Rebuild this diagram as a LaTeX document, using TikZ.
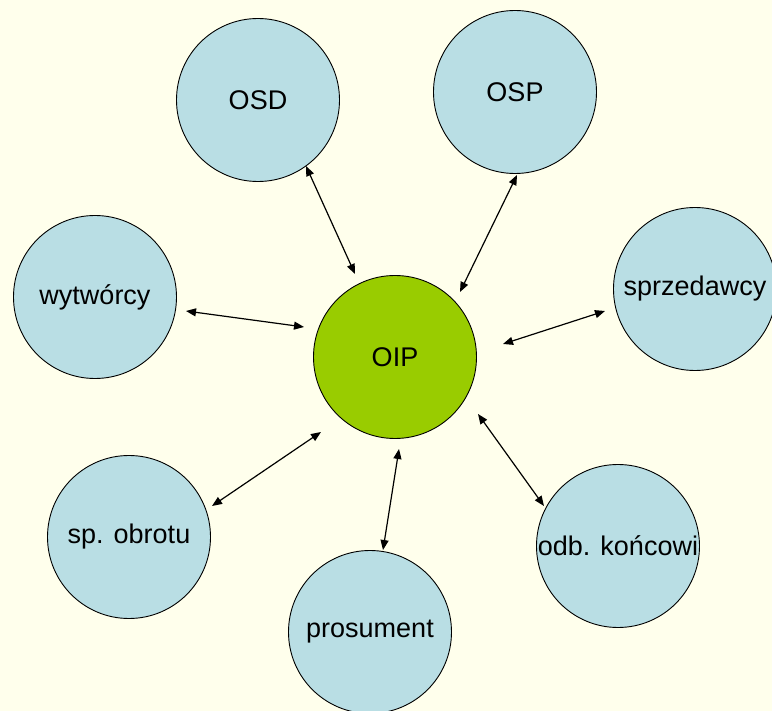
\documentclass[tikz,border=0pt]{standalone}
\usepackage{fontspec}
\setmainfont{Liberation Sans}
\usetikzlibrary{arrows.meta}
\definecolor{bgc}{RGB}{255,255,236}
\definecolor{bluec}{RGB}{185,222,228}
\definecolor{greenc}{RGB}{153,204,0}
\tikzset{
  party/.style={circle, draw=black, line width=0.9pt, fill=bluec, minimum size=163pt, inner sep=0pt,
    font=\fontsize{27}{32}\selectfont},
  hub/.style={party, fill=greenc},
  conn/.style={line width=1.2pt, {Triangle[length=10pt,width=8pt]}-{Triangle[length=10pt,width=8pt]}}
}
\begin{document}
\begin{tikzpicture}[x=1pt,y=-1pt]
\fill[bgc] (0,0) rectangle (772,711);
\useasboundingbox (0,0) rectangle (772,711);
\node[party] (osd) at (258,100) {OSD};
\node[party] (osp) at (515,92) {OSP};
\node[party] (wyt) at (95,297) {wytwórcy};
\node[hub] (oip) at (395,357) {OIP};
\node[party] (sprz) at (695,289) {sprzedawcy};
\node[party] (spob) at (129,537) {sp. obrotu};
\node[party] (pros) at (370,632) {prosument};
\node[party] (odb) at (618,546) {odb. końcowi};
\coordinate (osd-a) at (306,166); \coordinate (osd-b) at (355,274);
\coordinate (osp-a) at (517,175); \coordinate (osp-b) at (460,292);
\coordinate (wyt-a) at (186,311); \coordinate (wyt-b) at (304,327);
\coordinate (sprz-a) at (605,311); \coordinate (sprz-b) at (503,344);
\coordinate (spob-a) at (212,506); \coordinate (spob-b) at (321,432);
\coordinate (pros-a) at (383,550); \coordinate (pros-b) at (399,449);
\coordinate (odb-a) at (544,506); \coordinate (odb-b) at (478,414);
\draw[conn] (osd-a) -- (osd-b);
\draw[conn] (osp-a) -- (osp-b);
\draw[conn] (wyt-a) -- (wyt-b);
\draw[conn] (sprz-a) -- (sprz-b);
\draw[conn] (spob-a) -- (spob-b);
\draw[conn] (pros-a) -- (pros-b);
\draw[conn] (odb-a) -- (odb-b);
\end{tikzpicture}
\end{document}
